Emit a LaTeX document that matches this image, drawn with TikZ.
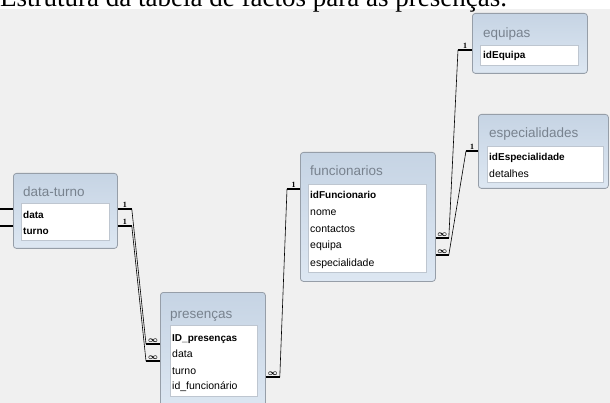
\documentclass[tikz,border=0pt]{standalone}
\usepackage{fontspec}
\setmainfont{Liberation Serif}
\newfontfamily\tabfont{Liberation Sans}

\definecolor{fundo}{RGB}{240,240,240}
\definecolor{tabtop}{RGB}{198,212,228}
\definecolor{tabbot}{RGB}{221,231,242}
\definecolor{tabborda}{RGB}{150,158,168}
\definecolor{tabtit}{RGB}{120,130,142}
\definecolor{cxborda}{RGB}{190,198,208}

\newcommand{\muitos}{{\boldmath$\infty$}}

\tikzset{
  tabela/.style={draw=tabborda, rounded corners=3pt, top color=tabtop, bottom color=tabbot,
    line width=0.8pt, anchor=north west, inner sep=0},
  caixa/.style={draw=cxborda, fill=white, anchor=north west, inner sep=0},
  titulo/.style={anchor=base west, text=tabtit, inner sep=0, font=\tabfont\fontsize{13.5}{13.5}\selectfont},
  campo/.style={anchor=base west, inner sep=0, font=\tabfont\fontsize{10.5}{10.5}\selectfont},
  chave/.style={campo, font=\tabfont\bfseries\fontsize{10}{10}\selectfont},
  ponta/.style={line width=1.8pt},
  liga/.style={line width=0.6pt},
  card/.style={above, inner sep=0.8pt, font=\bfseries\fontsize{8}{8}\selectfont},
}

\begin{document}
\begin{tikzpicture}[x=1pt,y=-1pt]
\useasboundingbox (0,0) rectangle (610,403);
\clip (0,0) rectangle (610,403);
\fill[fundo] (0,9) rectangle (610,403);
\node[anchor=base west, inner sep=0, font=\fontsize{27}{27}\selectfont] (titulo) at (0,7)
  {Estrutura da tabela de factos para as presenças.};

% data-turno
\node[tabela, minimum width=104pt, minimum height=75pt] (dt) at (13,173) {};
\node[caixa, minimum width=88pt, minimum height=37pt] (dtcx) at (21,203) {};
\node[titulo] (dttit) at (23,197) {data-turno};
\node[chave] (dtdata) at (23,219) {data};
\node[chave] (dtturno) at (23,235) {turno};

% presenças
\node[tabela, minimum width=105pt, minimum height=120pt] (pr) at (160,292) {};
\node[caixa, minimum width=87pt, minimum height=71pt] (prcx) at (170,325) {};
\node[titulo] (prtit) at (170,318) {presenças};
\node[chave] (prid) at (172,341) {ID\_presenças};
\node[campo] (prdata) at (172,357) {data};
\node[campo] (prturno) at (172,374) {turno};
\node[campo] (prfunc) at (172,389) {id\_funcionário};

% funcionarios
\node[tabela, minimum width=135pt, minimum height=129pt] (fu) at (300,152) {};
\node[caixa, minimum width=118pt, minimum height=88pt] (fucx) at (308,184) {};
\node[titulo] (futit) at (310,176) {funcionarios};
\node[chave] (fuid) at (310,199) {idFuncionario};
\node[campo] (funome) at (310,216) {nome};
\node[campo] (fucont) at (310,233) {contactos};
\node[campo] (fueq) at (310,249) {equipa};
\node[campo] (fuesp) at (310,266) {especialidade};

% equipas
\node[tabela, minimum width=115pt, minimum height=60pt] (eq) at (472,13) {};
\node[caixa, minimum width=98pt, minimum height=20pt] (eqcx) at (480,45) {};
\node[titulo] (eqtit) at (483,38) {equipas};
\node[chave] (eqid) at (483,59) {idEquipa};

% especialidades
\node[tabela, minimum width=130pt, minimum height=74pt] (es) at (478,114) {};
\node[caixa, minimum width=116pt, minimum height=36pt] (escx) at (487,146) {};
\node[titulo] (estit) at (489,138) {especialidades};
\node[chave] (esid) at (489,161) {idEspecialidade};
\node[campo] (esdet) at (489,178) {detalhes};

% ligacoes
\draw[ponta] (dt.west |- 0,209) -- ++(-14,0);
\draw[ponta] (dt.west |- 0,226) -- ++(-14,0);

\draw[ponta] (dt.east |- 0,209) -- ++(14,0) coordinate (r1a) node[card,midway] {1};
\draw[ponta] (pr.west |- 0,344) -- ++(-14,0) coordinate (r1b) node[card,midway] {\muitos};
\draw[liga] (r1a) -- (r1b);

\draw[ponta] (dt.east |- 0,226) -- ++(14,0) coordinate (r2a) node[card,midway] {1};
\draw[ponta] (pr.west |- 0,361) -- ++(-14,0) coordinate (r2b) node[card,midway] {\muitos};
\draw[liga] (r2a) -- (r2b);

\draw[ponta] (pr.east |- 0,377) -- ++(14,0) coordinate (r3a) node[card,midway] {\muitos};
\draw[ponta] (fu.west |- 0,189) -- ++(-13,0) coordinate (r3b) node[card,midway] {1};
\draw[liga] (r3a) -- (r3b);

\draw[ponta] (fu.east |- 0,238) -- ++(13,0) coordinate (r4a) node[card,midway] {\muitos};
\draw[ponta] (eq.west |- 0,50) -- ++(-14,0) coordinate (r4b) node[card,midway] {1};
\draw[liga] (r4a) -- (r4b);

\draw[ponta] (fu.east |- 0,255) -- ++(13,0) coordinate (r5a) node[card,midway] {\muitos};
\draw[ponta] (es.west |- 0,151) -- ++(-12,0) coordinate (r5b) node[card,midway] {1};
\draw[liga] (r5a) -- (r5b);
\end{tikzpicture}
\end{document}
